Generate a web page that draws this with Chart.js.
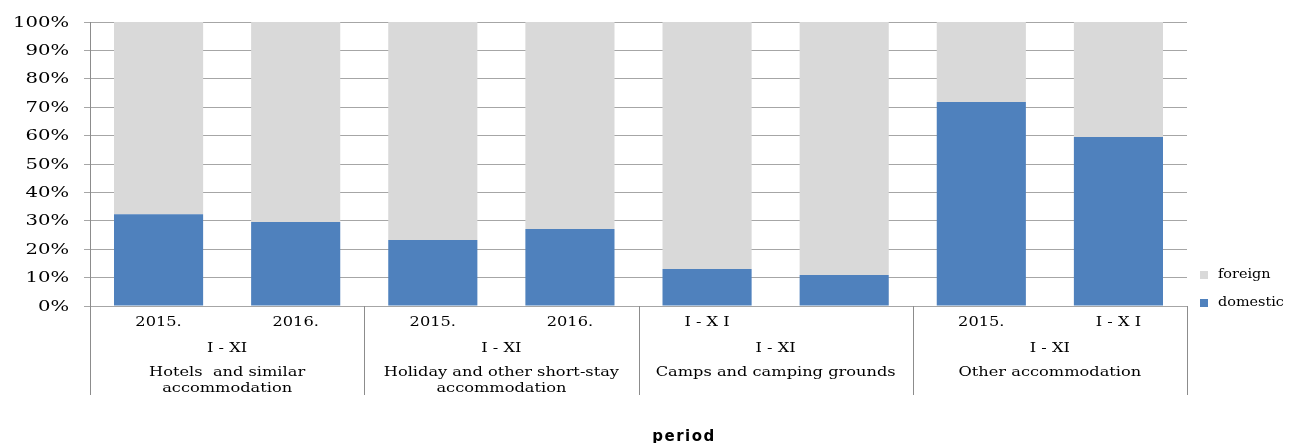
<!DOCTYPE html>
<html>
<head>
<meta charset="utf-8">
<script src="https://cdn.jsdelivr.net/npm/chart.js@4/dist/chart.umd.min.js"></script>
<style>
  html, body { margin: 0; padding: 0; background: #fff; }
  #wrap { width: 1298px; height: 443px; }
</style>
</head>
<body>
<div id="wrap"><canvas id="myChart"></canvas></div>
<script>
// bars, left to right
var periodLabels = ['2015.', '2016.', '2015.', '2016.', 'I - X I', '', '2015.', 'I - X I']
var monthLabels = ['I - XI', 'I - XI', 'I - XI', 'I - XI']
var groupLabels = [
    ['Hotels  and similar', 'accommodation'],
    ['Holiday and other short-stay', 'accommodation'],
    ['Camps and camping grounds'],
    ['Other accommodation']
]
var domestic = [32.3, 29.6, 23.2, 27.1, 13.0, 10.9, 71.8, 59.5]
var foreign = [67.7, 70.4, 76.8, 72.9, 87.0, 89.1, 28.2, 40.5]
var yTicks = [0, 10, 20, 30, 40, 50, 60, 70, 80, 90, 100]
var axisTitle = 'period'

var serif = '"DejaVu Serif", serif'

// the original text is wide, so draw it stretched sideways
function wideText(ctx, text, x, y, sx) {
    ctx.save()
    ctx.translate(x, y)
    ctx.scale(sx, 1)
    ctx.fillText(text, 0, 0)
    ctx.restore()
}

var labelsPlugin = {
    id: 'multiLabels',
    afterDraw: function(chart) {
        let ctx = chart.ctx
        let x = chart.scales.x
        let yScale = chart.scales.y
        let area = chart.chartArea
        ctx.save()
        ctx.fillStyle = '#000'
        ctx.textBaseline = 'middle'

        // y tick labels
        ctx.textAlign = 'right'
        ctx.font = '14px ' + serif
        yScale.ticks.forEach(function(t) {
            wideText(ctx, t.value + '%', 69, yScale.getPixelForValue(t.value) + 1, 1.4)
        })

        ctx.textAlign = 'center'
        ctx.font = '12px ' + serif
        // bar level labels
        for (let i = 0; i < periodLabels.length; i++) {
            wideText(ctx, periodLabels[i], x.getPixelForValue(i), 323, 1.35)
        }
        // group separators and group labels
        let edges = []
        for (let g = 0; g <= groupLabels.length; g++) {
            let i = g * 2
            let px
            if (i == 0) px = area.left
            else if (i >= periodLabels.length) px = area.right
            else px = (x.getPixelForValue(i) + x.getPixelForValue(i - 1)) / 2
            edges.push(px)
        }
        ctx.strokeStyle = '#8c8c8c'
        ctx.lineWidth = 1
        for (let g = 0; g < edges.length; g++) {
            let px = Math.round(edges[g]) + 0.5
            ctx.beginPath()
            ctx.moveTo(px, area.bottom)
            ctx.lineTo(px, 395)
            ctx.stroke()
        }
        for (let g = 0; g < groupLabels.length; g++) {
            let cx = (edges[g] + edges[g + 1]) / 2
            wideText(ctx, monthLabels[g], cx, 349, 1.35)
            let lines = groupLabels[g]
            for (let k = 0; k < lines.length; k++) {
                wideText(ctx, lines[k], cx, 373 + k * 16, 1.35)
            }
        }

        // legend, foreign on top
        let items = [chart.data.datasets[1], chart.data.datasets[0]]
        ctx.textAlign = 'left'
        for (let k = 0; k < items.length; k++) {
            let y = 275 + k * 28
            ctx.fillStyle = items[k].backgroundColor
            ctx.fillRect(1200, y - 4, 8, 8)
            ctx.fillStyle = '#000'
            wideText(ctx, items[k].label, 1218, y, 1.2)
        }

        // axis title
        ctx.textAlign = 'center'
        ctx.letterSpacing = '1.5px'
        ctx.font = 'bold 15px "DejaVu Sans", sans-serif'
        ctx.fillText(axisTitle, 684, 437)
        ctx.restore()
    }
}

function drawChart() {
    let ctx = document.getElementById('myChart').getContext('2d')
    let chart = new Chart(ctx, {
        type: 'bar',
        data: {
            labels: periodLabels,
            datasets: [{
                label: 'domestic',
                data: domestic,
                backgroundColor: '#4f81bd',
                barPercentage: 0.65,
                categoryPercentage: 1
            }, {
                label: 'foreign',
                data: foreign,
                backgroundColor: '#d9d9d9',
                barPercentage: 0.65,
                categoryPercentage: 1
            }]
        },
        options: {
            responsive: true,
            maintainAspectRatio: false,
            animation: false,
            layout: { padding: { left: 0, top: 22, right: 111, bottom: 137 } },
            plugins: {
                legend: { display: false },
                tooltip: { enabled: false }
            },
            scales: {
                x: { stacked: true, display: false },
                y: {
                    stacked: true,
                    min: 0,
                    max: 100,
                    afterBuildTicks: function(scale) {
                        scale.ticks = yTicks.map(function(v) { return { value: v } })
                    },
                    afterFit: function(scale) { scale.width = 90 },
                    ticks: { display: false },
                    grid: { color: '#a6a6a6', tickLength: 6 },
                    border: { color: '#8c8c8c' }
                }
            }
        },
        plugins: [labelsPlugin]
    })
}
drawChart()
</script>
</body>
</html>
